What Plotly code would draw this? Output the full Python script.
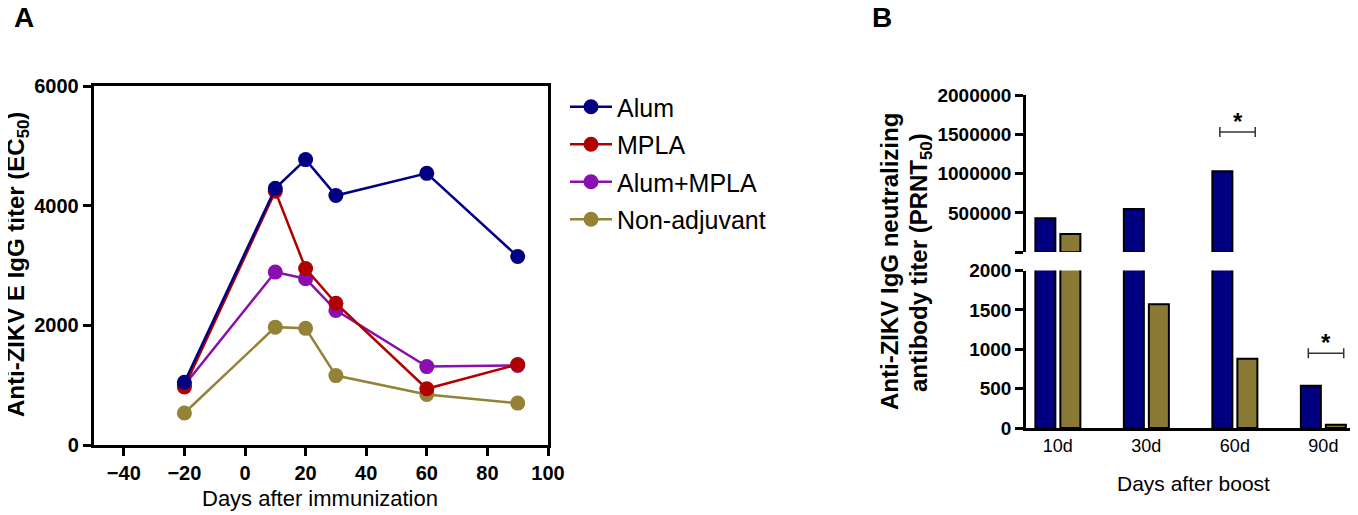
import plotly.graph_objects as go

W, H = 1358, 515
OFF = 8  # page body margin that shifts the plot in the browser

# Panel A data: days after immunization vs EC50 titer
days = [-20, 10, 20, 30, 60, 90]
alum = [1050, 4290, 4770, 4170, 4540, 3150]
mpla = [970, 4240, 2950, 2370, 940, 1345]
alum_mpla = [1000, 2890, 2780, 2250, 1310, 1330]
non_adj = [535, 1970, 1950, 1160, 845, 700]

# Panel B data: PRNT50 titers after boost
boost_days = ["10d", "30d", "60d", "90d"]
prnt_alum = [430000, 550000, 1030000, 535]
prnt_non = [232000, 1570, 880, 40]

BREAK = 2000  # axis break between lower and upper segment

NAVY = "#000080"
RED = "#b00000"
PURPLE = "#8a0fb0"
OLIVE = "#948237"
BAR_OLIVE = "#8b7a35"
FONT = "Arial, Liberation Sans, sans-serif"


def px(x):
    return (x - OFF) / W


def py(y):
    return 1 - (y - OFF) / H


fig = go.Figure()

# draw order: non-adjuvant at bottom, alum on top
series = [
    ("Non-adjuvant", non_adj, OLIVE, 4),
    ("Alum+MPLA", alum_mpla, PURPLE, 3),
    ("MPLA", mpla, RED, 2),
    ("Alum", alum, NAVY, 1),
]
for name, vals, col, rank in series:
    fig.add_trace(go.Scatter(
        x=days, y=vals, name=name, mode="lines+markers",
        line=dict(color=col, width=2.5),
        marker=dict(color=col, size=15),
        legendrank=rank, legendgroup=name,
        xaxis="x", yaxis="y",
    ))

# bars drawn on both segments of the broken axis
for xa, ya, upper in [("x2", "y2", False), ("x3", "y3", True)]:
    for vals, col, name in [(prnt_alum, NAVY, "Alum"), (prnt_non, BAR_OLIVE, "Non-adjuvant")]:
        if upper:
            vals = [v if v > BREAK else None for v in vals]
        fig.add_trace(go.Bar(
            x=boost_days, y=vals, name=name,
            marker=dict(color=col, line=dict(color="black", width=2)),
            showlegend=False, xaxis=xa, yaxis=ya,
        ))

# significance brackets
for xa, ya, cat, yv in [("x3", "y3", 2, 1530000), ("x2", "y2", 3, 950)]:
    x0, x1 = cat - 0.17, cat + 0.23
    style = dict(color="#333333", width=1.5)
    fig.add_shape(type="line", xref=xa, yref=ya, x0=x0, x1=x1, y0=yv, y1=yv, line=style)
    for xe in (x0, x1):
        fig.add_shape(type="line", xref=xa, yref=ya, x0=xe, x1=xe,
                      ysizemode="pixel", yanchor=yv, y0=-5, y1=5, line=style)
    fig.add_annotation(x=(x0 + x1) / 2, y=yv, xref=xa, yref=ya, text="<b>*</b>",
                       showarrow=False, yanchor="bottom", yshift=-5,
                       font=dict(size=24, color="black", family=FONT))

tickfont_a = dict(family=FONT, size=20, color="black", weight="bold")
tickfont_b = dict(family=FONT, size=19, color="black", weight="bold")
tick_style = dict(showline=True, linecolor="black", linewidth=2.5,
                  ticks="outside", ticklen=8, tickwidth=2.5, tickcolor="black",
                  showgrid=False, zeroline=False, automargin=False)

fig.update_layout(
    width=W, height=H,
    margin=dict(l=0, r=0, t=0, b=0, autoexpand=False),
    paper_bgcolor="white", plot_bgcolor="white",
    font=dict(family=FONT, color="black"),
    barmode="group", bargap=0.435, bargroupgap=0.2,
    showlegend=True,
    legend=dict(x=px(565), y=py(84), xanchor="left", yanchor="top",
                font=dict(size=25, family=FONT), tracegroupgap=2,
                itemwidth=42, bgcolor="rgba(0,0,0,0)"),
    xaxis=dict(domain=[px(93.5), px(548)], range=[-50, 100],
               tickvals=[-40, -20, 0, 20, 40, 60, 80, 100],
               mirror=True, tickfont=tickfont_a, anchor="y", **tick_style),
    yaxis=dict(domain=[py(445), py(86)], range=[0, 6000],
               tickvals=[0, 2000, 4000, 6000],
               mirror=True, tickfont=tickfont_a, anchor="x", **tick_style),
    xaxis2=dict(domain=[px(1026), px(1357)], range=[-0.36, 3.38],
                type="category", showline=True, linecolor="black", linewidth=2.5,
                ticks="", showgrid=False, zeroline=False, automargin=False,
                tickfont=dict(family=FONT, size=18, color="black"),
                anchor="y2"),
    yaxis2=dict(domain=[py(428), py(270.5)], range=[0, BREAK],
                tickvals=[0, 500, 1000, 1500, 2000],
                tickfont=tickfont_b, anchor="x2", **tick_style),
    xaxis3=dict(domain=[px(1026), px(1357)], range=[-0.36, 3.38],
                type="category", matches="x2", visible=False, anchor="y3"),
    yaxis3=dict(domain=[py(252), py(95)], range=[BREAK, 2000000],
                tickvals=[BREAK, 500000, 1000000, 1500000, 2000000],
                ticktext=[" ", "500000", "1000000", "1500000", "2000000"],
                tickfont=tickfont_b, anchor="x3", **tick_style),
)

annos = [
    dict(x=px(24), y=py(18), text="<b>A</b>", font=dict(size=28)),
    dict(x=px(882), y=py(18), text="<b>B</b>", font=dict(size=28)),
    dict(x=px(17), y=py(265), text="<b>Anti-ZIKV E IgG titer (EC<sub>50</sub>)</b>",
         textangle=-90, font=dict(size=24)),
    dict(x=px(320), y=py(498), text="Days after immunization", font=dict(size=22)),
    dict(x=px(889), y=py(262), text="<b>Anti-ZIKV IgG neutralizing</b>",
         textangle=-90, font=dict(size=24)),
    dict(x=px(920), y=py(262), text="<b>antibody titer (PRNT<sub>50</sub>)</b>",
         textangle=-90, font=dict(size=24)),
    dict(x=px(1193), y=py(483), text="Days after boost", font=dict(size=21)),
]
for a in annos:
    a.update(xref="paper", yref="paper", showarrow=False,
             xanchor="center", yanchor="middle")
    a["font"].update(family=FONT, color="black")
    fig.add_annotation(**a)

fig.write_html("out.html")
